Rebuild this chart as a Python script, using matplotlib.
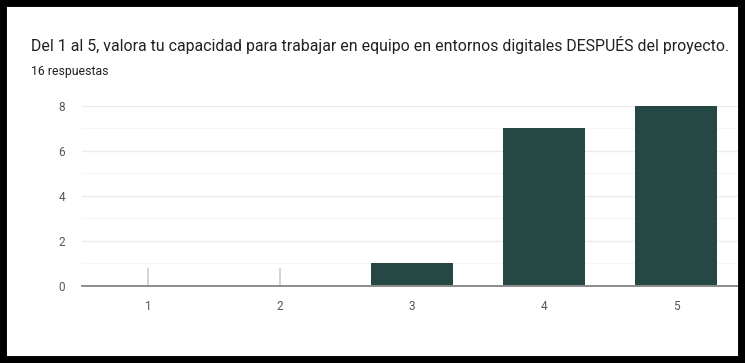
import matplotlib.pyplot as plt
from matplotlib.patches import Rectangle

categories = ["1", "2", "3", "4", "5"]
counts = [0, 0, 1, 7, 8]
y_ticks = [0, 2, 4, 6, 8]
title = "Del 1 al 5, valora tu capacidad para trabajar en equipo en entornos digitales DESPUÉS del proyecto."
subtitle = "16 respuestas"

plt.rcParams['font.family'] = ['Roboto', 'DejaVu Sans']

W, H = 745, 363
fig = plt.figure(figsize=(W / 100, H / 100), dpi=100)
fig.patch.set_facecolor('white')

# plot area in pixel terms
left, right, bottom, top = 82, 742, 286, 105.7
ax = fig.add_axes([left / W, 1 - bottom / H, (right - left) / W, (bottom - top) / H])

xs = list(range(1, len(categories) + 1))
ax.bar(xs, counts, width=0.62, color='#264845', zorder=3)

ax.set_xlim(0.5, len(categories) + 0.5)
ax.set_ylim(0, 8)
ax.set_yticks(y_ticks)
ax.set_yticks([1, 3, 5, 7], minor=True)
ax.set_xticks(xs)
ax.set_xticklabels(categories)

ax.grid(axis='y', which='major', color='#ebebeb', linewidth=1.0, zorder=0)
ax.grid(axis='y', which='minor', color='#f5f5f5', linewidth=1.0, zorder=0)
ax.set_axisbelow(True)

for s in ['top', 'right', 'left']:
    ax.spines[s].set_visible(False)
ax.spines['bottom'].set_color('#8c8c8c')
ax.spines['bottom'].set_linewidth(1.4)
ax.spines['bottom'].set_zorder(4)

ax.tick_params(axis='x', direction='in', length=13, width=1.1, color='#c8c8c8',
               labelsize=8.5, labelcolor='#555555', pad=10)
ax.tick_params(axis='y', which='both', length=0, labelsize=8.5, labelcolor='#555555', pad=12)

fig.text(31 / W, 1 - 45 / H, title, fontsize=11.4, color='#202124', va='center', ha='left')
fig.text(31 / W, 1 - 71 / H, subtitle, fontsize=8.8, color='#202124', va='center', ha='left')

# black frame around the card
fig.add_artist(Rectangle((0, 0), 1, 1, transform=fig.transFigure, fill=False,
                         edgecolor='black', linewidth=10, zorder=10))

fig.savefig('out.png', dpi=100, facecolor='white')
